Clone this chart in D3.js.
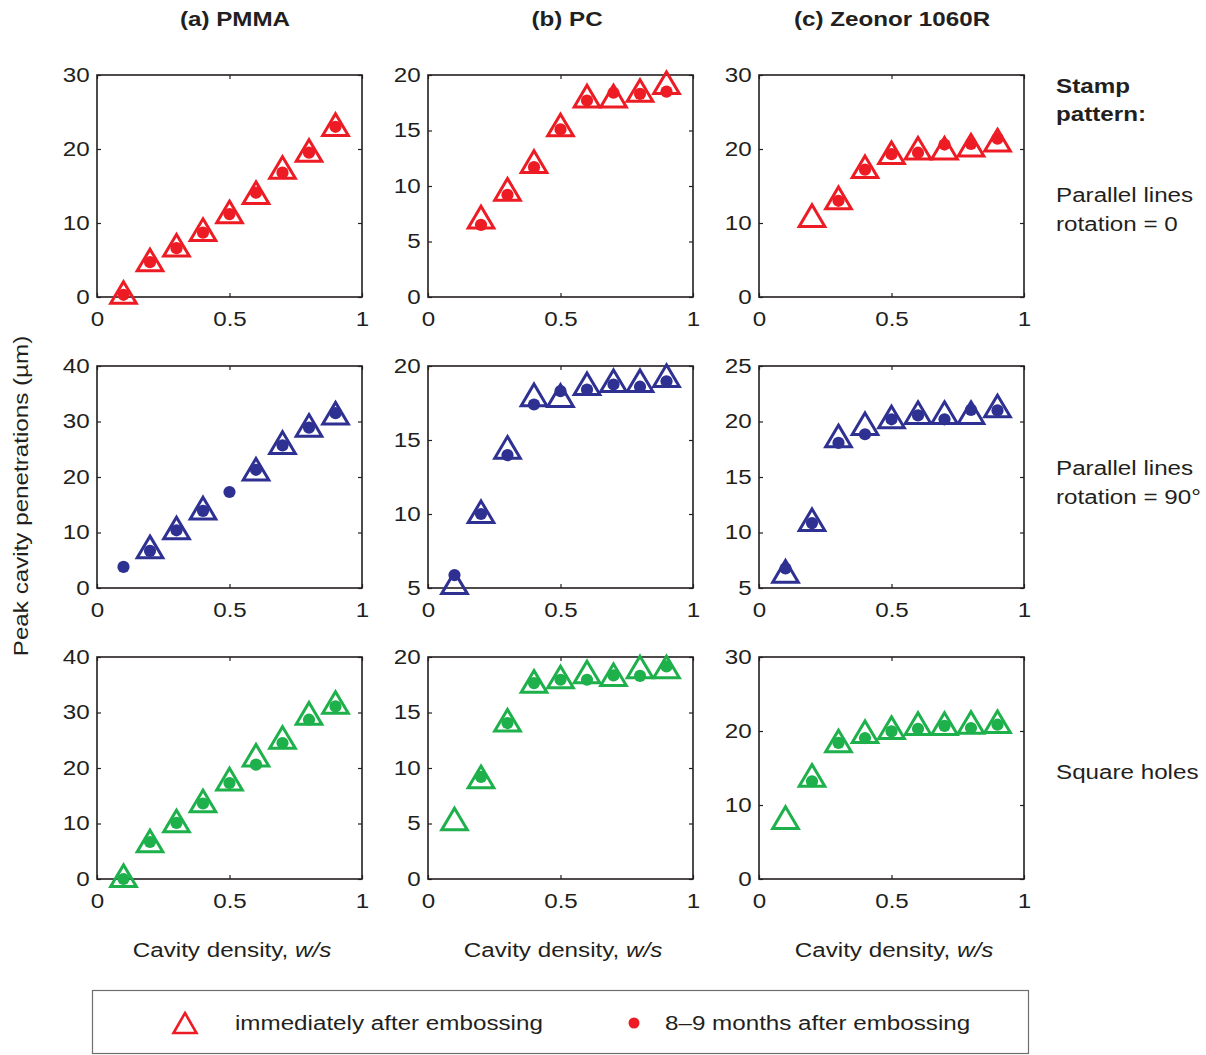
<!DOCTYPE html>
<html>
<head>
<meta charset="utf-8">
<script src="https://cdn.jsdelivr.net/npm/d3@7"></script>
<style>
  html, body { margin: 0; padding: 0; background: #fff; }
  svg { display: block; font-family: "Liberation Sans", Arial, Helvetica, sans-serif; }
</style>
</head>
<body>
<svg id="chart" width="1206" height="1055"></svg>
<script>
// Cavity density values shared by every panel
const density = [0.1, 0.2, 0.3, 0.4, 0.5, 0.6, 0.7, 0.8, 0.9];

const materials = ["(a) PMMA", "(b) PC", "(c) Zeonor 1060R"];
const patternColors = ["#ed1c24", "#2e3192", "#1db04b"];

// Peak penetration (µm), immediately after embossing (triangles)
const pmmaRot0Fresh   = [0.6, 5.0, 7.0, 9.1, 11.5, 14.1, 17.5, 19.8, 23.3];
const pcRot0Fresh     = [null, 7.2, 9.7, 12.2, 15.5, 18.1, 18.1, 18.6, 19.3];
const zeoRot0Fresh    = [null, 11.0, 13.4, 17.6, 19.5, 20.1, 20.1, 20.5, 21.2];
const pmmaRot90Fresh  = [null, 7.4, 10.8, 14.4, null, 21.4, 26.2, 29.3, 31.5];
const pcRot90Fresh    = [5.35, 10.15, 14.5, 18.05, 18.0, 18.8, 19.0, 19.0, 19.35];
const zeoRot90Fresh   = [6.5, 11.15, 18.7, 19.8, 20.4, 20.8, 20.8, 20.8, 21.4];
const pmmaSquareFresh = [0.6, 6.85, 10.45, 14.05, 18.0, 22.3, 25.5, 29.85, 31.8];
const pcSquareFresh   = [5.4, 9.2, 14.3, 17.8, 18.2, 18.65, 18.4, 19.1, 19.1];
const zeoSquareFresh  = [8.3, 14.0, 18.65, 19.9, 20.45, 21.0, 21.0, 21.15, 21.25];

// Peak penetration (µm), 8–9 months after embossing (dots)
const pmmaRot0Aged   = [0.3, 4.7, 6.6, 8.7, 11.2, 14.1, 16.8, 19.5, 23.0];
const pcRot0Aged     = [null, 6.5, 9.2, 11.7, 15.1, 17.7, 18.4, 18.3, 18.5];
const zeoRot0Aged    = [null, null, 13.0, 17.2, 19.3, 19.5, 20.6, 20.7, 21.4];
const pmmaRot90Aged  = [3.8, 6.7, 10.4, 13.9, 17.3, 21.3, 25.7, 28.9, 31.5];
const pcRot90Aged    = [5.87, 10.0, 13.98, 17.4, 18.3, 18.4, 18.75, 18.6, 18.97];
const zeoRot90Aged   = [6.76, 10.85, 18.07, 18.85, 20.2, 20.55, 20.2, 21.05, 21.0];
const pmmaSquareAged = [0.0, 6.67, 10.1, 13.6, 17.3, 20.6, 24.5, 28.7, 31.1];
const pcSquareAged   = [null, 9.2, 14.05, 17.65, 17.95, 17.95, 18.35, 18.3, 19.15];
const zeoSquareAged  = [null, 13.2, 18.4, 19.05, 19.95, 20.3, 20.7, 20.4, 20.85];

// Axis ranges and tick values per panel (rows = pattern, columns = material)
const yDomains = [
  [[0, 30], [0, 20], [0, 30]],
  [[0, 40], [5, 20], [5, 25]],
  [[0, 40], [0, 20], [0, 30]]
];
const yTicks = [
  [[0, 10, 20, 30], [0, 5, 10, 15, 20], [0, 10, 20, 30]],
  [[0, 10, 20, 30, 40], [5, 10, 15, 20], [5, 10, 15, 20, 25]],
  [[0, 10, 20, 30, 40], [0, 5, 10, 15, 20], [0, 10, 20, 30]]
];
const xTicks = [0, 0.5, 1];

const freshSeries = [
  [pmmaRot0Fresh, pcRot0Fresh, zeoRot0Fresh],
  [pmmaRot90Fresh, pcRot90Fresh, zeoRot90Fresh],
  [pmmaSquareFresh, pcSquareFresh, zeoSquareFresh]
];
const agedSeries = [
  [pmmaRot0Aged, pcRot0Aged, zeoRot0Aged],
  [pmmaRot90Aged, pcRot90Aged, zeoRot90Aged],
  [pmmaSquareAged, pcSquareAged, zeoSquareAged]
];

const rowLabels = [
  ["Parallel lines", "rotation = 0"],
  ["Parallel lines", "rotation = 90°"],
  ["Square holes"]
];

// ---- layout ----
const svg = d3.select("#chart");
const colX = [97, 428, 759];
const rowY = [75, 366, 657];
const pw = 265, ph = 222;
const ink = "#231f20";
const tickLen = 4;
const fontSize = "20px";
const wide = 1.21; // horizontal stretch of the typeface

// Open triangle centred on its bounding box
function trianglePath(hw, hh) {
  return `M0,${-hh}L${hw},${hh}L${-hw},${hh}Z`;
}

// Text placed at (x, y) and widened horizontally
function label(parent, x, y, s, anchor) {
  return parent.append("text")
    .attr("transform", `translate(${x},${y}) scale(${wide},1)`)
    .attr("text-anchor", anchor || "start")
    .attr("fill", ink).style("font-size", fontSize)
    .text(s);
}

rowY.forEach((y0, r) => {
  colX.forEach((x0, c) => {
    const x = d3.scaleLinear().domain([0, 1]).range([0, pw]);
    const y = d3.scaleLinear().domain(yDomains[r][c]).range([ph, 0]);
    const g = svg.append("g").attr("transform", `translate(${x0},${y0})`);

    // ticks on all four sides, pointing inward; labels on bottom and left
    const xAxis = d3.axisBottom(x).tickValues(xTicks).tickFormat(d3.format("~g"))
      .tickSizeInner(-tickLen).tickSizeOuter(0).tickPadding(15);
    const yAxis = d3.axisLeft(y).tickValues(yTicks[r][c]).tickFormat(d3.format("~g"))
      .tickSizeInner(-tickLen).tickSizeOuter(0).tickPadding(6);
    const xTop = d3.axisTop(x).tickValues(xTicks).tickFormat("")
      .tickSizeInner(-tickLen).tickSizeOuter(0);
    const yRight = d3.axisRight(y).tickValues(yTicks[r][c]).tickFormat("")
      .tickSizeInner(-tickLen).tickSizeOuter(0);

    const gx = g.append("g").attr("transform", `translate(0,${ph})`).call(xAxis);
    const gy = g.append("g").call(yAxis);
    g.append("g").call(xTop);
    g.append("g").attr("transform", `translate(${pw},0)`).call(yRight);

    g.selectAll(".domain").remove();
    g.selectAll(".tick line").attr("stroke", ink).attr("stroke-width", 1.2);
    g.selectAll(".tick text").attr("fill", ink).style("font-size", fontSize)
      .style("font-family", "\"Liberation Sans\", Arial, sans-serif")
      .attr("transform", `scale(${wide},1)`);
    gx.selectAll(".tick text").attr("dy", "0.71em");

    // frame
    g.append("rect").attr("width", pw).attr("height", ph)
      .attr("fill", "none").attr("stroke", ink).attr("stroke-width", 1.6);

    const color = patternColors[r];
    const fresh = density.map((d, i) => ({ d, v: freshSeries[r][c][i] })).filter(p => p.v != null);
    const aged = density.map((d, i) => ({ d, v: agedSeries[r][c][i] })).filter(p => p.v != null);

    g.selectAll("path.fresh").data(fresh).enter().append("path")
      .attr("class", "fresh")
      .attr("d", trianglePath(12.8, 10.8))
      .attr("transform", p => `translate(${x(p.d)},${y(p.v)})`)
      .attr("fill", "none").attr("stroke", color).attr("stroke-width", 3)
      .attr("stroke-linejoin", "miter");

    g.selectAll("circle.aged").data(aged).enter().append("circle")
      .attr("class", "aged")
      .attr("cx", p => x(p.d)).attr("cy", p => y(p.v)).attr("r", 6.1)
      .attr("fill", color);
  });
});

// column titles
const titleShift = [5.5, 6.5, 0.5];
materials.forEach((m, c) => {
  label(svg, colX[c] + pw / 2 + titleShift[c], 26, m, "middle")
    .style("font-weight", "bold");
});

// x-axis titles
colX.forEach(x0 => {
  const t = label(svg, x0 + pw / 2 + 2.5, 957, null, "middle");
  t.append("tspan").text("Cavity density, ");
  t.append("tspan").style("font-style", "italic").text("w/s");
});

// y-axis title
svg.append("text")
  .attr("transform", `translate(28,496) rotate(-90) scale(${wide},1)`)
  .attr("text-anchor", "middle").attr("fill", ink).style("font-size", fontSize)
  .text("Peak cavity penetrations (µm)");

// stamp pattern labels on the right
label(svg, 1056, 93, "Stamp").style("font-weight", "bold");
label(svg, 1056, 121, "pattern:").style("font-weight", "bold");

const rowLabelY = [202, 475, 779];
rowLabels.forEach((lines, r) => {
  lines.forEach((s, k) => label(svg, 1056, rowLabelY[r] + k * 29, s));
});

// legend
const lg = svg.append("g");
lg.append("rect").attr("x", 92.5).attr("y", 990.5).attr("width", 936).attr("height", 63)
  .attr("fill", "none").attr("stroke", "#6d6e71").attr("stroke-width", 1.2);
lg.append("path").attr("d", trianglePath(11.5, 10))
  .attr("transform", "translate(185,1023)")
  .attr("fill", "none").attr("stroke", patternColors[0]).attr("stroke-width", 2.6);
label(lg, 235, 1030, "immediately after embossing");
lg.append("circle").attr("cx", 634).attr("cy", 1023).attr("r", 5.5).attr("fill", patternColors[0]);
label(lg, 665, 1030, "8–9 months after embossing");
</script>
</body>
</html>
